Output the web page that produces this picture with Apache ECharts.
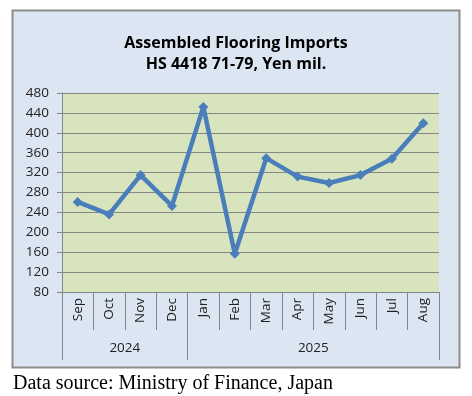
<!DOCTYPE html>
<html>
<head>
<meta charset="utf-8">
<script src="https://cdn.jsdelivr.net/npm/echarts@6/dist/echarts.min.js"></script>
<style>
  html, body { margin: 0; padding: 0; background: #fff; }
  #chart { width: 472px; height: 396px; }
</style>
</head>
<body>
<div id="chart"></div>
<script>
// Chart data
const months = ['Sep', 'Oct', 'Nov', 'Dec', 'Jan', 'Feb', 'Mar', 'Apr', 'May', 'Jun', 'Jul', 'Aug'];
const imports = [261, 236, 315, 253, 452, 157, 349, 312, 299, 315, 348, 419];
const years = ['2024', '2025'];
const monthsPerYear = [4, 8];
const yTicks = { min: 80, max: 480, step: 40 };

// year boundaries and centers on a 0..12 scale
const yearEdges = [0];
monthsPerYear.forEach(function (n) { yearEdges.push(yearEdges[yearEdges.length - 1] + n); });
const yearCenters = monthsPerYear.map(function (n, i) { return yearEdges[i] + n / 2; });

const chart = echarts.init(document.getElementById('chart'));
const labelFont = 'Open Sans, Noto Sans, sans-serif';

chart.setOption({
    animation: false,
    backgroundColor: '#ffffff',
    graphic: [{
        type: 'rect',
        shape: { x: 12.5, y: 10.5, width: 447, height: 357 },
        style: { fill: '#dce6f2', stroke: '#8c8c8c', lineWidth: 2 },
        z: -10
    }],
    title: [{
        text: 'Assembled Flooring Imports\nHS 4418 71-79, Yen mil.',
        left: 'center',
        top: 28,
        textStyle: {
            fontFamily: labelFont,
            fontSize: 16,
            fontWeight: 'bold',
            color: '#000',
            lineHeight: 21
        }
    }, {
        text: 'Data source: Ministry of Finance, Japan',
        left: 8,
        top: 369,
        textStyle: {
            fontFamily: 'Liberation Serif, Times New Roman, serif',
            fontSize: 20,
            fontWeight: 'normal',
            color: '#000'
        }
    }],
    grid: {
        left: 62,
        right: 33,
        top: 93,
        bottom: 104,
        show: true,
        backgroundColor: '#d7e4bd',
        borderWidth: 0
    },
    xAxis: [{
        type: 'category',
        data: months,
        boundaryGap: true,
        axisLine: { show: true, lineStyle: { color: '#868686', width: 1 } },
        axisTick: {
            show: true,
            interval: 0,
            length: 38,
            lineStyle: { color: '#868686' }
        },
        axisLabel: {
            interval: 0,
            rotate: 90,
            margin: 6,
            fontFamily: labelFont,
            fontSize: 13.5,
            color: '#222'
        }
    }, {
        type: 'value',
        min: 0,
        max: 12,
        position: 'bottom',
        splitLine: { show: false },
        axisLine: { show: false },
        axisTick: {
            show: true,
            customValues: yearEdges,
            length: 68,
            lineStyle: { color: '#868686' }
        },
        axisLabel: {
            customValues: yearCenters,
            margin: 49,
            fontFamily: labelFont,
            fontSize: 13.5,
            color: '#222',
            formatter: function (v) {
                return years[yearCenters.indexOf(v)] || '';
            }
        }
    }],
    yAxis: {
        type: 'value',
        min: yTicks.min,
        max: yTicks.max,
        interval: yTicks.step,
        axisLine: { show: true, lineStyle: { color: '#868686' } },
        axisTick: { show: true, length: 5, lineStyle: { color: '#868686' } },
        splitLine: { show: true, lineStyle: { color: '#868686', width: 1 } },
        axisLabel: {
            margin: 13,
            fontFamily: labelFont,
            fontSize: 13.5,
            color: '#222'
        }
    },
    series: [{
        name: 'Imports',
        type: 'line',
        xAxisIndex: 0,
        data: imports,
        symbol: 'diamond',
        symbolSize: 10,
        lineStyle: { color: '#4a7ebb', width: 4.5 },
        itemStyle: { color: '#4a7ebb' }
    }]
});

window.addEventListener('resize', function () {
    chart.resize();
});
</script>
</body>
</html>
